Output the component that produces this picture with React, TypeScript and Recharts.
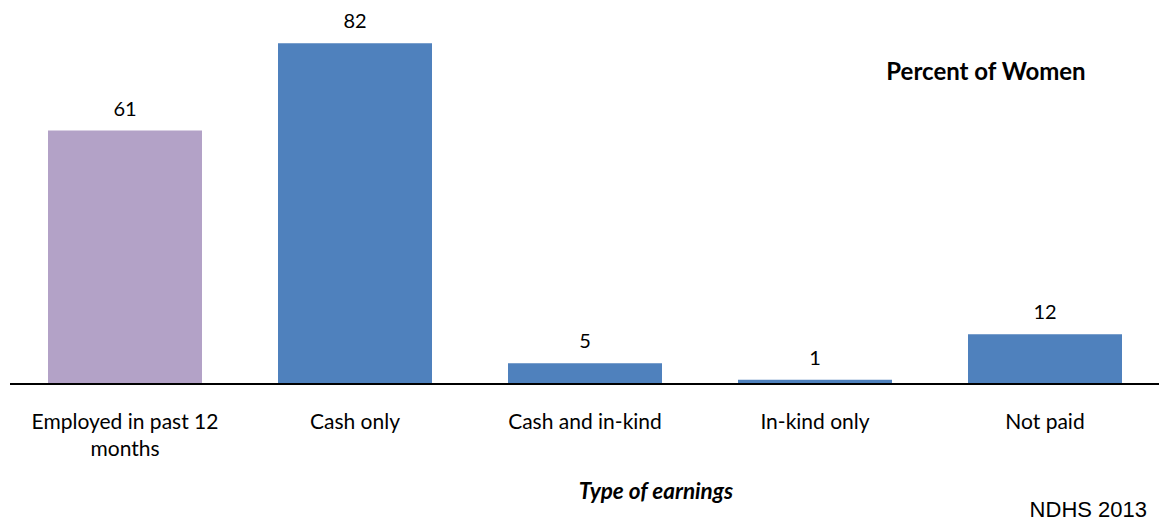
import React from 'react';
import { BarChart, Bar, XAxis, YAxis, Cell, LabelList } from 'recharts';

const categories = ['Employed in past 12 months', 'Cash only', 'Cash and in-kind', 'In-kind only', 'Not paid'];
const percentWomen = [61, 82, 5, 1, 12];
const barColors = ['#B3A2C7', '#4F81BD', '#4F81BD', '#4F81BD', '#4F81BD'];

const data = categories.map((name, i) => ({ name, value: percentWomen[i] }));

const FONT = 'Lato, "Noto Sans", sans-serif';

// simple greedy wrap so long category names break like the original
const wrap = (s: string, maxChars: number) => {
  const lines: string[] = [];
  let cur = '';
  s.split(' ').forEach((w) => {
    const next = cur ? cur + ' ' + w : w;
    if (next.length > maxChars && cur) {
      lines.push(cur);
      cur = w;
    } else {
      cur = next;
    }
  });
  if (cur) lines.push(cur);
  return lines;
};

const CategoryTick = (props: any) => {
  const { x, y, payload } = props;
  const lines = wrap(String(payload.value), 20);
  return (
    <text
      x={x}
      y={y + 37}
      textAnchor="middle"
      style={{ fontFamily: FONT, fontSize: 21, fill: '#000' }}
    >
      {lines.map((l, i) => (
        <tspan key={i} x={x} dy={i === 0 ? 0 : 27}>
          {l}
        </tspan>
      ))}
    </text>
  );
};

const App: React.FC = () => {
  return (
    <div style={{ position: 'relative', width: 1159, height: 519, background: '#fff' }}>
      <BarChart
        width={1159}
        height={519}
        data={data}
        margin={{ top: 2, right: 7, left: 2, bottom: 43 }}
        barCategoryGap={38}
        style={{ overflow: 'visible' }}
      >
        <XAxis
          dataKey="name"
          axisLine={{ stroke: '#000', strokeWidth: 2 }}
          tickLine={false}
          interval={0}
          height={100}
          tick={<CategoryTick />}
        />
        <YAxis hide domain={[0, 90]} />
        <Bar dataKey="value" isAnimationActive={false}>
          {data.map((_, i) => (
            <Cell key={i} fill={barColors[i]} />
          ))}
          <LabelList
            dataKey="value"
            position="top"
            offset={15}
            style={{ fontFamily: FONT, fontSize: 20, fill: '#000' }}
          />
        </Bar>
      </BarChart>
      <div
        style={{
          position: 'absolute', left: 828, top: 48, width: 300, textAlign: 'center',
          fontFamily: FONT, fontWeight: 'bold', fontSize: 24, color: '#000',
        }}
      >
        Percent of Women
      </div>
      <div
        style={{
          position: 'absolute', left: 548, top: 469, width: 200, textAlign: 'center',
          fontFamily: FONT, fontWeight: 'bold', fontStyle: 'italic', fontSize: 22.5, color: '#000',
        }}
      >
        Type of earnings
      </div>
      <div
        style={{
          position: 'absolute', right: 20, top: 489,
          fontFamily: '"Liberation Sans", Arial, sans-serif', fontSize: 22, color: '#000',
        }}
      >
        NDHS 2013
      </div>
    </div>
  );
};

export default App;
